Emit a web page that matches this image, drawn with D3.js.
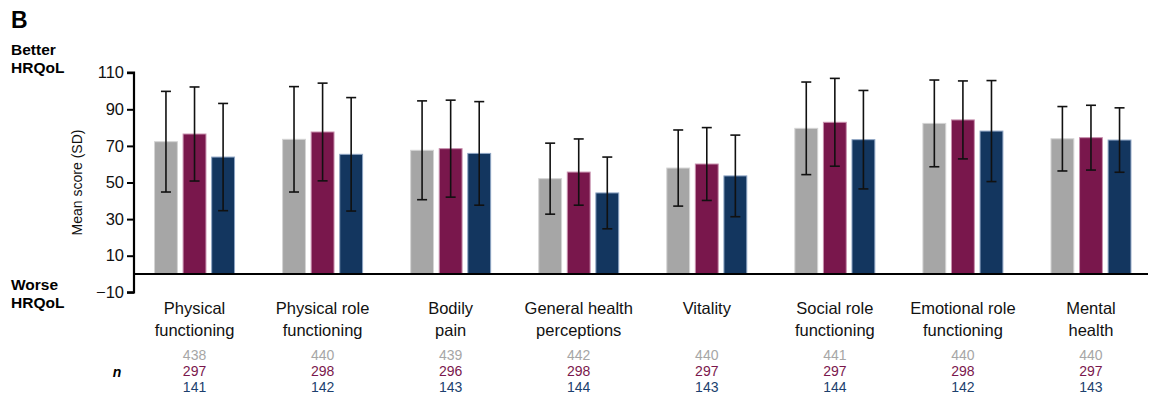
<!DOCTYPE html>
<html>
<head>
<meta charset="utf-8">
<script src="https://cdn.jsdelivr.net/npm/d3@7"></script>
<style>
  html, body { margin: 0; padding: 0; background: #fff; }
  svg { display: block; font-family: "Liberation Sans", Arial, sans-serif; }
</style>
</head>
<body>
<svg id="chart" width="1151" height="395"></svg>
<script>
// SF-36 domains (two-line labels)
const domains = [
  ["Physical", "functioning"],
  ["Physical role", "functioning"],
  ["Bodily", "pain"],
  ["General health", "perceptions"],
  ["Vitality", ""],
  ["Social role", "functioning"],
  ["Emotional role", "functioning"],
  ["Mental", "health"]
];
const groups = ["overall", "groupA", "groupB"];

// Mean scores per domain
const meanOverall = [72.3, 73.6, 67.6, 52.1, 57.9, 79.6, 82.3, 73.9];
const meanGroupA  = [76.5, 77.6, 68.5, 55.7, 60.1, 82.9, 84.2, 74.5];
const meanGroupB  = [63.9, 65.4, 65.9, 44.3, 53.6, 73.4, 78.1, 73.2];

// Standard deviations per domain
const sdOverall = [27.5, 28.8, 27.0, 19.4, 20.8, 25.3, 23.7, 17.6];
const sdGroupA  = [25.7, 26.7, 26.5, 18.1, 19.9, 24.0, 21.3, 17.7];
const sdGroupB  = [29.3, 31.0, 28.3, 19.6, 22.3, 26.9, 27.6, 17.6];

// Sample sizes per domain
const nOverall = [438, 440, 439, 442, 440, 441, 440, 440];
const nGroupA  = [297, 298, 296, 298, 297, 297, 298, 297];
const nGroupB  = [141, 142, 143, 144, 143, 144, 142, 143];

const yTicks = [-10, 10, 30, 50, 70, 90, 110];

const fills   = { overall: "#a6a6a6", groupA: "#79174c", groupB: "#13365f" };
const strokes = { overall: "#d4d4d4", groupA: "#c890ae", groupB: "#8ea5c4" };
const nColors = { overall: "#a6a6a6", groupA: "#7a174d", groupB: "#1c3f6e" };

const means = { overall: meanOverall, groupA: meanGroupA, groupB: meanGroupB };
const sds   = { overall: sdOverall,   groupA: sdGroupA,   groupB: sdGroupB };
const ns    = { overall: nOverall,    groupA: nGroupA,    groupB: nGroupB };

const svg = d3.select("#chart");

const axisX = 134;
const y = d3.scaleLinear().domain([-10, 110]).range([292.3, 72.7]);

const x0 = d3.scaleBand()
  .domain(d3.range(domains.length))
  .range([130.5, 1155])
  .paddingInner(0)
  .paddingOuter(0);

const x1 = d3.scaleBand()
  .domain(groups)
  .range([0, 80])
  .paddingInner(0.2)
  .paddingOuter(0);

const groupOffset = (x0.bandwidth() - 80) / 2;

// Y axis
const yAxis = d3.axisLeft(y).tickValues(yTicks).tickSize(7).tickPadding(3)
  .tickFormat(d => d < 0 ? "\u2212" + Math.abs(d) : d);
const ya = svg.append("g").attr("transform", `translate(${axisX},0)`).call(yAxis);
ya.select(".domain").attr("stroke", "#000").attr("stroke-width", 2.2)
  .attr("d", `M-7,${y(110)}H0V${y(-10)}H-7`);
ya.selectAll(".tick line").attr("stroke", "#000").attr("stroke-width", 2);
ya.selectAll(".tick text").attr("font-size", 16.5).attr("fill", "#111")
  .attr("font-family", "Liberation Sans, Arial, sans-serif");

// Bars
const gGroups = svg.append("g");
domains.forEach((d, i) => {
  const gx = x0(i) + groupOffset;
  groups.forEach(k => {
    const v = means[k][i];
    const bx = gx + x1(k);
    gGroups.append("rect")
      .attr("x", bx)
      .attr("y", y(v))
      .attr("width", x1.bandwidth())
      .attr("height", y(0) - y(v))
      .attr("fill", fills[k])
      .attr("stroke", strokes[k])
      .attr("stroke-width", 1);
  });
});

// Zero baseline
svg.append("line")
  .attr("x1", axisX).attr("x2", 1148)
  .attr("y1", y(0)).attr("y2", y(0))
  .attr("stroke", "#000").attr("stroke-width", 2.2);

// Error bars (mean ± SD)
const gErr = svg.append("g").attr("stroke", "#111").attr("stroke-width", 1.6).attr("fill", "none");
domains.forEach((d, i) => {
  const gx = x0(i) + groupOffset;
  groups.forEach(k => {
    const cx = gx + x1(k) + x1.bandwidth() / 2;
    const top = y(means[k][i] + sds[k][i]);
    const bot = y(means[k][i] - sds[k][i]);
    gErr.append("line").attr("x1", cx).attr("x2", cx).attr("y1", top).attr("y2", bot);
    gErr.append("line").attr("x1", cx - 5).attr("x2", cx + 5).attr("y1", top).attr("y2", top);
    gErr.append("line").attr("x1", cx - 5).attr("x2", cx + 5).attr("y1", bot).attr("y2", bot);
  });
});

// Domain labels and sample sizes
domains.forEach((d, i) => {
  const cx = x0(i) + x0.bandwidth() / 2;
  const t = svg.append("text").attr("text-anchor", "middle").attr("font-size", 16.5).attr("fill", "#111");
  t.append("tspan").attr("x", cx).attr("y", 314).text(d[0]);
  if (d[1]) t.append("tspan").attr("x", cx).attr("y", 336).text(d[1]);
  groups.forEach((k, j) => {
    svg.append("text")
      .attr("x", cx).attr("y", 360 + j * 16)
      .attr("text-anchor", "middle")
      .attr("font-size", 14)
      .attr("fill", nColors[k])
      .text(ns[k][i]);
  });
});

svg.append("text").attr("x", 117).attr("y", 377).attr("text-anchor", "middle")
  .attr("font-size", 14).attr("font-weight", "bold").attr("font-style", "italic").text("n");

// Y axis title
svg.append("text")
  .attr("transform", `translate(82,${y(50)}) rotate(-90)`)
  .attr("text-anchor", "middle")
  .attr("font-size", 14)
  .attr("fill", "#111")
  .text("Mean score (SD)");

// Panel letter and direction labels
svg.append("text").attr("x", 11).attr("y", 28).attr("font-size", 23).attr("font-weight", "bold").text("B");
const better = svg.append("text").attr("font-size", 15.5).attr("font-weight", "bold");
better.append("tspan").attr("x", 11).attr("y", 55).text("Better");
better.append("tspan").attr("x", 11).attr("y", 73).text("HRQoL");
const worse = svg.append("text").attr("font-size", 15.5).attr("font-weight", "bold");
worse.append("tspan").attr("x", 11).attr("y", 290).text("Worse");
worse.append("tspan").attr("x", 11).attr("y", 308).text("HRQoL");
</script>
</body>
</html>
